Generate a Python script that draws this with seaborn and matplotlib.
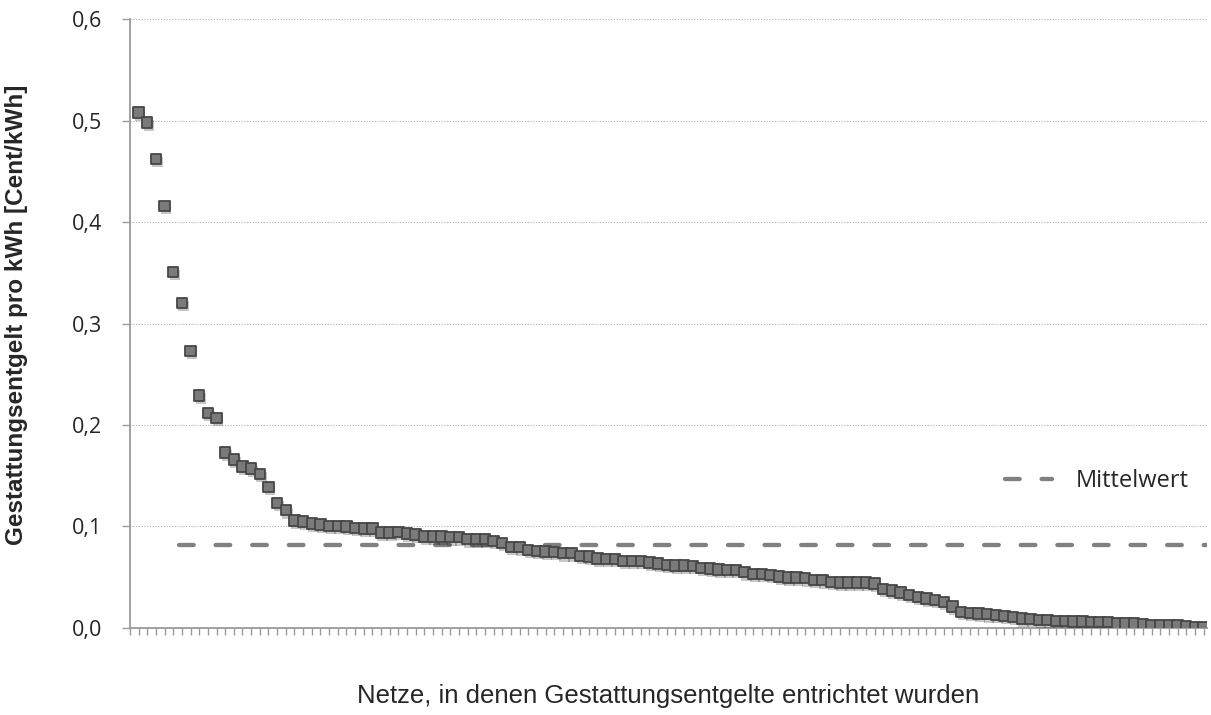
import matplotlib
matplotlib.use("Agg")
import matplotlib.pyplot as plt
import matplotlib.patheffects as pe
from matplotlib.lines import Line2D
import numpy as np
import pandas as pd
import seaborn as sns

# Gestattungsentgelt je Netz, absteigend sortiert (Cent/kWh)
werte = [
    0.508, 0.498, 0.462, 0.416, 0.351, 0.320, 0.273, 0.229, 0.212, 0.207,
    0.173, 0.166, 0.159, 0.157, 0.152, 0.139, 0.123, 0.116, 0.106, 0.105,
    0.103, 0.102, 0.1005, 0.1005, 0.0998, 0.0988, 0.098, 0.098, 0.094, 0.094,
    0.0945, 0.093, 0.092, 0.090, 0.090, 0.090, 0.0894, 0.0894, 0.0874, 0.0874,
    0.0874, 0.0857, 0.084, 0.080, 0.0795, 0.0768, 0.076, 0.0752, 0.075, 0.0736,
    0.0736, 0.0712, 0.0703, 0.0686, 0.068, 0.068, 0.066, 0.066, 0.066, 0.0647,
    0.0637, 0.062, 0.0614, 0.0614, 0.0610, 0.0594, 0.0588, 0.0578, 0.0571, 0.0571,
    0.0549, 0.0532, 0.0532, 0.0522, 0.0506, 0.0499, 0.0499, 0.049, 0.0473, 0.0470,
    0.0456, 0.045, 0.045, 0.045, 0.045, 0.044, 0.0384, 0.0368, 0.0348, 0.0325,
    0.0308, 0.0292, 0.0276, 0.0259, 0.021, 0.0158, 0.015, 0.0144, 0.0135, 0.0128,
    0.0121, 0.0111, 0.0095, 0.0089, 0.0079, 0.0079, 0.0069, 0.0069, 0.0062, 0.0062,
    0.0058, 0.0056, 0.0056, 0.0046, 0.0046, 0.0046, 0.0036, 0.003, 0.003, 0.0023,
    0.0023, 0.0013, 0.0005, 0.0003,
]
mittelwert = 0.082
mittel_start = 5.7
y_ticks = [0.0, 0.1, 0.2, 0.3, 0.4, 0.5, 0.6]
y_labels = ["0,0", "0,1", "0,2", "0,3", "0,4", "0,5", "0,6"]

df = pd.DataFrame({"netz": np.arange(1, len(werte) + 1), "wert": werte})

sns.set_style("white")
plt.rcParams["font.family"] = ["Liberation Sans", "DejaVu Sans"]

fig = plt.figure(figsize=(12.11, 7.15), dpi=100)
ax = fig.add_axes([0.1073, 0.1217, 0.8894, 0.8517])

x_max = len(werte) + 0.4

# Mittelwert
ax.plot([mittel_start, x_max], [mittelwert, mittelwert], color="#808080",
        lw=3.1, dashes=(3.4, 5.1), dash_capstyle="round", zorder=2)

sns.scatterplot(data=df, x="netz", y="wert", ax=ax, marker="s", s=56,
                color="#7a7a7a", edgecolor="#474747", linewidth=1.3,
                zorder=3, legend=False)
ax.collections[-1].set_path_effects([
    pe.SimplePatchShadow(offset=(1.2, -2.2), alpha=0.22, shadow_rgbFace="#000000"),
    pe.Normal(),
])

ax.set_xlim(0, x_max)
ax.set_ylim(0, 0.6)
ax.set_xticks(np.arange(0, len(werte) + 1))
ax.set_xticklabels([])
ax.set_yticks(y_ticks)
ax.set_yticklabels(y_labels, fontfamily="Open Sans", fontsize=15.5)

ax.grid(axis="y", linestyle=(0, (1, 1.5)), color="#b0b0b0", lw=0.8)
ax.set_axisbelow(True)
for side in ["top", "right"]:
    ax.spines[side].set_visible(False)
for side in ["left", "bottom"]:
    ax.spines[side].set_color("#9a9a9a")
    ax.spines[side].set_linewidth(1.3)
ax.tick_params(axis="x", bottom=True, length=5, width=1, color="#9a9a9a", pad=2)
ax.tick_params(axis="y", left=True, length=6, width=1, color="#9a9a9a", pad=14)

ax.set_xlabel("Netze, in denen Gestattungsentgelte entrichtet wurden",
              fontsize=18.5, labelpad=33)
ax.set_ylabel("Gestattungsentgelt pro kWh [Cent/kWh]", fontsize=17.5,
              fontweight="bold", labelpad=30)
ax.yaxis.set_label_coords(-0.095, 0.514)

handle = Line2D([], [], color="#808080", lw=3.1, dashes=(3.4, 5.1),
                dash_capstyle="round")
ax.legend([handle], ["Mittelwert"], loc="center right",
          bbox_to_anchor=(0.992, 0.241), frameon=False,
          prop={"family": "Open Sans", "size": 17}, handlelength=2.0,
          handletextpad=1.0, borderaxespad=0)

fig.savefig("out.png", dpi=100)
